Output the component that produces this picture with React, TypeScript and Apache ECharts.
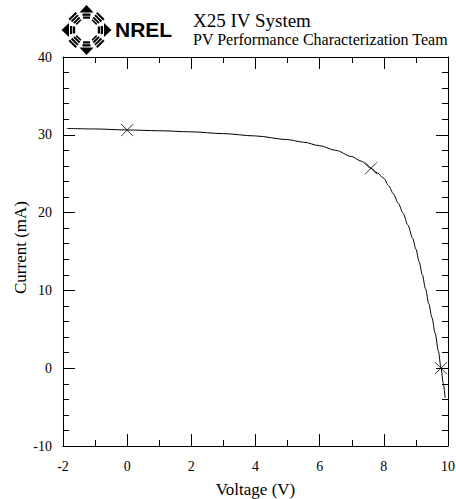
import React, { useEffect, useRef } from "react";
import * as echarts from "echarts";

const voltage = [-1.88, -1, 0, 1, 2, 3, 4, 5, 5.5, 6, 6.5, 7, 7.3, 7.6, 7.8, 8.0, 8.15, 8.3, 8.45, 8.6, 8.75, 8.9, 9.0, 9.1, 9.2, 9.3, 9.4, 9.5, 9.6, 9.7, 9.78, 9.85, 9.91];
const current = [30.82, 30.75, 30.62, 30.52, 30.38, 30.15, 29.85, 29.38, 29.05, 28.6, 28.0, 27.2, 26.6, 25.7, 25.1, 24.4, 23.45, 22.4, 21.2, 19.9, 18.4, 16.7, 15.3, 13.7, 12.0, 10.2, 8.3, 6.5, 4.5, 2.2, 0.1, -1.9, -3.8];
const markV = [0, 7.6, 9.78];
const markI = [30.6, 25.7, 0];
const xTicks = [-2, 0, 2, 4, 6, 8, 10];
const yTicks = [-10, 0, 10, 20, 30, 40];
const xName = "Voltage (V)";
const yName = "Current (mA)";
const titleLines = ["X25 IV System", "PV Performance Characterization Team"];
const logoText = "NREL";

const SERIF = "'Liberation Serif', serif";

function logoElements(cx: number, cy: number) {
  const children: any[] = [];
  const black = { fill: "#000" };
  for (let k = 0; k < 8; k++) {
    const rot = (k * Math.PI) / 4;
    const sub: any[] = [];
    if (k % 2 === 0) {
      sub.push({ type: "polygon", shape: { points: [[-7, -17.5], [7, -17.5], [0, -25]] }, style: black });
      sub.push({ type: "rect", shape: { x: -4, y: -16.5, width: 8, height: 2.3 }, style: black });
      sub.push({ type: "rect", shape: { x: -3.5, y: -13.5, width: 7, height: 2.2 }, style: black });
    } else {
      sub.push({ type: "rect", shape: { x: -5, y: -20.5, width: 10, height: 2 }, style: black });
      sub.push({ type: "rect", shape: { x: -4.5, y: -17.6, width: 9, height: 2 }, style: black });
      sub.push({ type: "rect", shape: { x: -4, y: -14.7, width: 8, height: 2 }, style: black });
      sub.push({ type: "rect", shape: { x: -3.3, y: -12, width: 6.6, height: 1.6 }, style: black });
    }
    children.push({ type: "group", rotation: rot, children: sub });
  }
  return { type: "group", x: cx, y: cy, children };
}

export default function App() {
  const ref = useRef<HTMLDivElement>(null);
  useEffect(() => {
    if (!ref.current) return;
    const chart = echarts.init(ref.current, null, { renderer: "svg" });
    const lineData = voltage.map((v, i) => [v, current[i]]);
    const markData = markV.map((v, i) => [v, markI[i]]);
    const axisCommon = {
      axisLine: { show: true, onZero: false, lineStyle: { color: "#000", width: 1 } },
      axisTick: { show: true, inside: true, length: 12, lineStyle: { color: "#000", width: 1 } },
      minorTick: { show: true, length: 6, lineStyle: { color: "#000", width: 1 } },
      splitLine: { show: false },
      axisLabel: { show: false },
    };
    const xMin = xTicks[0], xMax = xTicks[xTicks.length - 1];
    const yMin = yTicks[0], yMax = yTicks[yTicks.length - 1];
    chart.setOption({
      animation: false,
      grid: { left: 63, right: 8, top: 57, bottom: 53 },
      xAxis: [
        { type: "value", min: xMin, max: xMax, interval: 2, position: "bottom", ...axisCommon, minorTick: { ...axisCommon.minorTick, splitNumber: 2 } },
        { type: "value", min: xMin, max: xMax, interval: 2, position: "top", ...axisCommon, minorTick: { ...axisCommon.minorTick, splitNumber: 2 } },
      ],
      yAxis: [
        { type: "value", min: yMin, max: yMax, interval: 10, position: "left", ...axisCommon, minorTick: { ...axisCommon.minorTick, splitNumber: 5 } },
        { type: "value", min: yMin, max: yMax, interval: 10, position: "right", ...axisCommon, minorTick: { ...axisCommon.minorTick, splitNumber: 5 } },
      ],
      series: [
        {
          type: "line", data: lineData, showSymbol: false, symbol: "none", smooth: 0.3, smoothMonotone: "x",
          lineStyle: { color: "#000", width: 1 }, silent: true,
        },
        {
          type: "scatter", data: markData,
          symbol: "path://M0,0L10,10M10,0L0,10", symbolSize: 12,
          itemStyle: { color: "transparent", borderColor: "#000", borderWidth: 1 },
          silent: true,
        },
      ],
    });

    const px = (v: number) => chart.convertToPixel({ xAxisIndex: 0 }, v) as number;
    const py = (v: number) => chart.convertToPixel({ yAxisIndex: 0 }, v) as number;
    const leftX = px(xMin), rightX = px(xMax), bottomY = py(yMin), topY = py(yMax);
    const labelTexts: any[] = [];
    xTicks.forEach((t) => {
      labelTexts.push({
        type: "text", x: px(t), y: bottomY + 20,
        style: { text: String(t), fill: "#000", fontFamily: SERIF, fontSize: 14, align: "center", verticalAlign: "middle" },
      });
    });
    yTicks.forEach((t) => {
      labelTexts.push({
        type: "text", x: leftX - 11, y: py(t),
        style: { text: String(t), fill: "#000", fontFamily: SERIF, fontSize: 14, align: "right", verticalAlign: "middle" },
      });
    });
    labelTexts.push({
      type: "text", x: (leftX + rightX) / 2, y: bottomY + 43,
      style: { text: xName, fill: "#000", fontFamily: SERIF, fontSize: 17, align: "center", verticalAlign: "middle" },
    });
    labelTexts.push({
      type: "text", x: leftX - 43, y: (topY + bottomY) / 2 - 4, rotation: Math.PI / 2,
      style: { text: yName, fill: "#000", fontFamily: SERIF, fontSize: 17, align: "center", verticalAlign: "middle" },
    });

    chart.setOption({
      graphic: [
        logoElements(86.5, 30),
        {
          type: "text", x: 115, y: 29,
          style: { text: logoText, fill: "#000", fontFamily: "'Liberation Sans', sans-serif", fontWeight: "bold", fontSize: 21, verticalAlign: "middle", align: "left" },
        },
        {
          type: "text", x: 193, y: 20.3,
          style: { text: titleLines[0], fill: "#000", fontFamily: SERIF, fontSize: 19, verticalAlign: "middle", align: "left" },
        },
        {
          type: "text", x: 193, y: 39.6,
          style: { text: titleLines[1], fill: "#000", fontFamily: SERIF, fontSize: 16, verticalAlign: "middle", align: "left" },
        },
        ...labelTexts,
      ],
    });
    return () => chart.dispose();
  }, []);
  return (
    <div style={{ position: "absolute", left: 0, top: 0, width: 456, height: 499 }}>
      <div ref={ref} style={{ width: 456, height: 499 }} />
    </div>
  );
}
